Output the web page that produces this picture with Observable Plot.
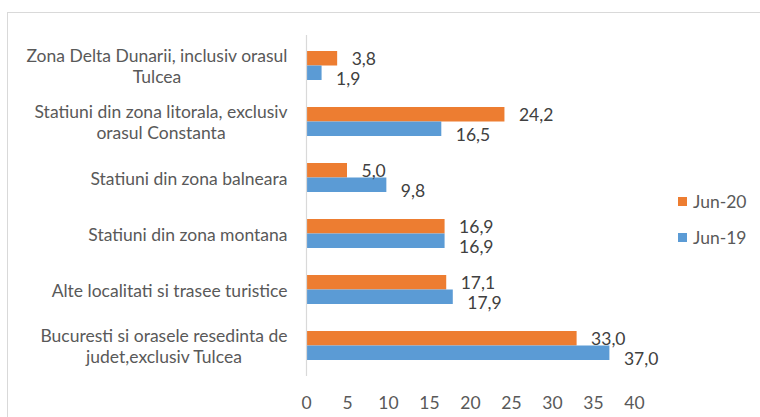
<!DOCTYPE html>
<html>
<head>
<meta charset="utf-8">
<script src="https://cdn.jsdelivr.net/npm/d3@7"></script>
<script src="https://cdn.jsdelivr.net/npm/@observablehq/plot@0.6"></script>
<style>
  html, body { margin: 0; padding: 0; background: #fff; }
  #wrap { position: relative; width: 760px; height: 417px; overflow: hidden; }
  #frame { position: absolute; left: 7px; top: 12px; width: 800px; height: 500px; border: 1px solid #d9d9d9; box-sizing: border-box; }
  #legend { position: absolute; left: 678px; top: 190px; font-family: Lato, sans-serif; font-size: 17.5px; color: #595959; }
  .item { display: flex; align-items: center; height: 22px; margin-bottom: 14px; }
  .sw { width: 9px; height: 9px; margin-right: 6px; }
  #chart { position: absolute; left: 0; top: 0; }
</style>
</head>
<body>
<div id="wrap">
  <div id="frame"></div>
  <div id="chart"></div>
  <div id="legend"></div>
</div>
<script>
const categories = [
  "Zona Delta Dunarii, inclusiv orasul\nTulcea",
  "Statiuni din zona litorala, exclusiv\norasul Constanta",
  "Statiuni din zona balneara",
  "Statiuni din zona montana",
  "Alte localitati si trasee turistice",
  "Bucuresti si orasele resedinta de\njudet,exclusiv Tulcea"
];
const seriesNames = ["Jun-20", "Jun-19"];
const jun20 = [3.8, 24.2, 5.0, 16.9, 17.1, 33.0];
const jun19 = [1.9, 16.5, 9.8, 16.9, 17.9, 37.0];
const xTicks = [0, 5, 10, 15, 20, 25, 30, 35, 40];
const colors = ["#ED7D31", "#5B9BD5"];

const rows20 = categories.map((c, i) => ({category: c, series: seriesNames[0], value: jun20[i]}));
const rows19 = categories.map((c, i) => ({category: c, series: seriesNames[1], value: jun19[i]}));
const fmt = v => d3.format(".1f")(v).replace(".", ",");

const plot = Plot.plot({
  width: 760,
  height: 417,
  marginLeft: 306,
  marginRight: 126,
  marginTop: 35,
  marginBottom: 41,
  style: {fontFamily: "Lato, sans-serif", fontSize: "17.5px", color: "#595959", background: "transparent", overflow: "visible"},
  x: {domain: [0, 40]},
  y: {domain: categories, paddingInner: 0.49, paddingOuter: 0.245},
  marks: [
    Plot.barX(rows20, {x: "value", y: "category", fill: colors[0], insetBottom: 14.5}),
    Plot.barX(rows19, {x: "value", y: "category", fill: colors[1], insetTop: 14.5}),
    Plot.ruleX([0], {stroke: "#d9d9d9", strokeWidth: 1.2}),
    Plot.text(rows20, {x: "value", y: "category", text: d => fmt(d.value), textAnchor: "start", dx: 14, dy: -7, fill: "#404040"}),
    Plot.text(rows19, {x: "value", y: "category", text: d => fmt(d.value), textAnchor: "start", dx: 14, dy: 13, fill: "#404040"}),
    Plot.axisX({ticks: xTicks, tickSize: 0, tickPadding: 20, label: null, fill: "#595959"}),
    Plot.axisY({tickSize: 0, tickPadding: 19, label: null, lineHeight: 1.2, fill: "#595959"})
  ]
});
document.getElementById("chart").appendChild(plot);

// center multi-line category labels within their block (right edge kept)
plot.querySelectorAll('g[aria-label="y-axis tick label"] text').forEach(t => {
  const b0 = t.getBBox();
  const right = b0.x + b0.width;
  t.setAttribute("text-anchor", "middle");
  const b1 = t.getBBox();
  const dx = right - (b1.x + b1.width);
  const tr = t.getAttribute("transform") || "";
  t.setAttribute("transform", tr + ` translate(${dx},0)`);
});

const legend = d3.select("#legend");
seriesNames.forEach((s, i) => {
  const it = legend.append("div").attr("class", "item");
  it.append("div").attr("class", "sw").style("background", colors[i]);
  it.append("span").text(s);
});
</script>
</body>
</html>
